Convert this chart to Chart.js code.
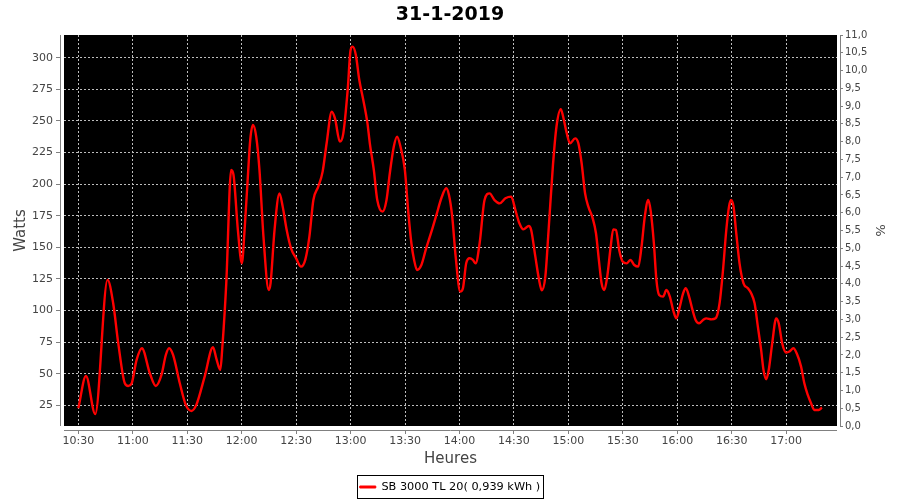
<!DOCTYPE html>
<html>
<head>
<meta charset="utf-8">
<script src="https://cdn.jsdelivr.net/npm/chart.js@4/dist/chart.umd.min.js"></script>
<style>
html,body{margin:0;padding:0;background:#fff;}
#wrap{width:900px;height:500px;position:relative;}
</style>
</head>
<body>
<div id="wrap"><canvas id="c" width="900" height="500"></canvas></div>
<script>
const chartTitle = "31-1-2019";
const seriesLabel = "SB 3000 TL 20( 0,939 kWh )";
const xAxisTitle = "Heures";
const yAxisTitle = "Watts";
const y2AxisTitle = "%";

// time in minutes after midnight
const minutes = [
  630.0, 634.2, 639.3, 646.1, 649.2, 652.0, 655.6, 657.5, 659.3, 662.1,
  665.0, 669.4, 672.7, 675.8, 678.2, 680.0, 682.2, 685.9, 689.2, 692.3,
  695.0, 699.6, 704.2, 706.0, 708.2, 709.3, 711.5, 714.2, 715.5, 717.9,
  720.1, 721.6, 723.4, 724.7, 726.2, 728.0, 729.8, 732.0, 734.9, 735.9,
  738.1, 740.8, 742.6, 744.8, 747.2, 750.0, 752.7, 755.1, 757.3, 759.5,
  762.2, 764.6, 766.8, 769.6, 771.4, 774.1, 776.0, 778.4, 780.0, 781.1,
  782.9, 784.8, 787.0, 789.3, 790.6, 792.8, 794.7, 797.6, 799.8, 801.6,
  803.8, 805.6, 807.5, 809.9, 811.7, 813.5, 815.0, 816.6, 819.0, 821.4,
  825.1, 827.3, 830.0, 832.7, 834.2, 836.0, 837.9, 840.4, 841.9, 843.7,
  845.6, 847.4, 848.9, 851.1, 853.8, 856.6, 859.3, 862.1, 865.3, 868.5,
  870.8, 873.0, 875.2, 878.2, 879.5, 881.8, 883.7, 885.3, 887.3, 889.1,
  891.5, 893.4, 895.8, 896.9, 899.1, 900.9, 903.7, 905.5, 907.3, 909.2,
  911.0, 913.4, 915.2, 917.0, 918.3, 919.8, 921.4, 923.3, 924.7, 926.2,
  928.0, 929.9, 932.1, 934.2, 936.3, 938.5, 940.3, 942.1, 944.0, 945.4,
  947.1, 948.5, 950.0, 952.2, 954.0, 955.9, 957.7, 959.5, 961.4, 963.2,
  964.7, 966.5, 968.4, 970.1, 972.0, 974.2, 976.0, 978.8, 981.1, 983.3,
  985.2, 987.0, 988.5, 989.6, 991.0, 992.5, 994.3, 996.5, 998.9, 1000.7,
  1002.6, 1004.4, 1006.2, 1007.5, 1009.0, 1010.4, 1012.3, 1014.5, 1015.9, 1017.8,
  1020.0, 1021.8, 1024.0, 1025.8, 1028.2, 1030.0, 1031.9, 1033.7, 1035.5, 1037.9,
  1039.7
];
const watts = [
  22.6, 48.2, 18.1, 124.2, 105.7, 74.0, 42.4, 40.3, 42.0, 60.9,
  70.1, 50.3, 40.3, 49.0, 64.8, 70.1, 64.8, 42.4, 25.3, 20.5,
  25.3, 47.7, 70.9, 62.2, 53.0, 70.1, 121.5, 211.2, 207.2, 163.7,
  137.3, 163.7, 205.9, 234.9, 246.8, 237.6, 211.2, 158.4, 116.2, 121.5,
  163.7, 192.7, 182.2, 163.7, 149.2, 141.3, 134.7, 140.5, 158.4, 187.4,
  198.0, 209.9, 232.3, 257.3, 252.0, 233.6, 240.2, 274.5, 306.1, 308.8,
  302.2, 282.4, 266.6, 248.1, 232.3, 211.2, 187.4, 178.2, 187.4, 208.5,
  229.6, 237.6, 229.6, 211.2, 179.5, 153.2, 140.0, 132.1, 136.0, 147.9,
  165.0, 175.6, 188.8, 196.7, 191.4, 174.3, 142.6, 114.9, 117.6, 137.3,
  141.3, 140.0, 137.3, 153.2, 187.4, 192.7, 187.4, 184.8, 188.8, 190.1,
  179.5, 169.0, 164.2, 166.9, 163.7, 142.6, 125.5, 116.0, 126.8, 163.7,
  215.0, 245.0, 259.2, 254.7, 240.2, 232.3, 236.2, 232.3, 216.5, 192.7,
  182.2, 172.9, 161.1, 137.3, 121.5, 116.2, 126.8, 150.5, 164.2, 163.7,
  147.9, 138.7, 137.3, 140.0, 136.0, 134.7, 150.5, 174.3, 187.4, 178.2,
  153.2, 124.2, 112.3, 111.0, 116.2, 111.0, 100.4, 93.8, 103.1, 113.6,
  117.6, 111.0, 100.4, 92.5, 89.9, 92.5, 93.8, 93.0, 93.8, 105.7,
  132.1, 163.7, 182.2, 187.4, 182.2, 161.1, 137.3, 121.5, 117.6, 113.6,
  105.7, 87.2, 68.8, 53.0, 45.6, 53.0, 74.0, 93.8, 89.9, 74.0,
  66.7, 67.5, 70.1, 66.1, 55.6, 42.4, 33.2, 26.6, 21.3, 21.3,
  23.2
];

const xTickValues = [630, 660, 690, 720, 750, 780, 810, 840, 870, 900, 930, 960, 990, 1020];
const xTickLabels = ["10:30","11:00","11:30","12:00","12:30","13:00","13:30","14:00","14:30","15:00","15:30","16:00","16:30","17:00"];
const wattTicks = [25, 50, 75, 100, 125, 150, 175, 200, 225, 250, 275, 300];
const pctTicks = [0, 0.5, 1, 1.5, 2, 2.5, 3, 3.5, 4, 4.5, 5, 5.5, 6, 6.5, 7, 7.5, 8, 8.5, 9, 9.5, 10, 10.5, 11];
const pctTickLabels = ["0,0","0,5","1,0","1,5","2,0","2,5","3,0","3,5","4,0","4,5","5,0","5,5","6,0","6,5","7,0","7,5","8,0","8,5","9,0","9,5","10,0","10,5","11,0"];

const FONT = "'DejaVu Sans', sans-serif";
const AXIS_GRAY = '#808080';
const TEXT_GRAY = '#444444';
const GRID_GRAY = '#bdbdbd';

Chart.defaults.font.family = FONT;

const framePlugin = {
  id: 'frame',
  beforeDraw(chart) {
    const {ctx, chartArea: a} = chart;
    ctx.save();
    ctx.fillStyle = '#000';
    ctx.fillRect(a.left, a.top, a.right - a.left, a.bottom - a.top);
    ctx.restore();
  },
  afterDraw(chart) {
    const {ctx, chartArea: a} = chart;
    ctx.save();
    ctx.fillStyle = '#fff';
    ctx.fillRect(a.left - 4, a.top, 4, a.bottom - a.top + 4);
    ctx.fillRect(a.right, a.top, 3, a.bottom - a.top + 4);
    ctx.fillRect(a.left - 4, a.bottom, a.right - a.left + 7, 4);
    ctx.strokeStyle = AXIS_GRAY;
    ctx.lineWidth = 1;
    ctx.beginPath();
    ctx.moveTo(a.left - 3.5, a.top);
    ctx.lineTo(a.left - 3.5, a.bottom);
    ctx.moveTo(a.left, a.bottom + 4.5);
    ctx.lineTo(a.right, a.bottom + 4.5);
    ctx.moveTo(a.right + 3.5, a.top);
    ctx.lineTo(a.right + 3.5, a.bottom);
    ctx.stroke();
    const hb = chart.legend && chart.legend.legendHitBoxes && chart.legend.legendHitBoxes[0];
    if (hb) {
      ctx.strokeStyle = '#000';
      ctx.lineWidth = 1;
      const l = Math.round(hb.left - 3) + 0.5;
      const r = Math.round(hb.left + hb.width + 3) + 0.5;
      const t = Math.round(hb.top - 6) + 0.5;
      const b = Math.round(hb.top + hb.height + 5) + 0.5;
      ctx.strokeRect(l, t, r - l, b - t);
    }
    ctx.restore();
  }
};

new Chart(document.getElementById('c'), {
  type: 'line',
  data: {
    datasets: [{
      label: seriesLabel,
      data: minutes.map((m, i) => ({x: m, y: watts[i]})),
      borderColor: '#ff0000',
      backgroundColor: '#ff0000',
      borderWidth: 2.4,
      pointRadius: 0,
      fill: false,
      cubicInterpolationMode: 'monotone',
      yAxisID: 'y'
    }]
  },
  options: {
    responsive: false,
    animation: false,
    layout: {padding: {left: 0, right: 0, top: 0, bottom: 3.65}},
    plugins: {
      title: {
        display: true,
        text: chartTitle,
        color: '#000',
        font: {family: FONT, size: 19, weight: 'bold'},
        padding: {top: 4, bottom: 8.2}
      },
      legend: {
        position: 'bottom',
        maxHeight: 20,
        labels: {
          color: '#000',
          font: {family: FONT, size: 11.3},
          boxWidth: 16,
          boxHeight: 2,
          padding: 5,
          generateLabels(chart) {
            const items = Chart.defaults.plugins.legend.labels.generateLabels(chart);
            items.forEach(it => { it.lineWidth = 1; });
            return items;
          }
        }
      },
      tooltip: {enabled: false}
    },
    scales: {
      x: {
        type: 'linear',
        position: 'bottom',
        min: 622.1,
        max: 1048.0,
        afterBuildTicks(scale) { scale.ticks = xTickValues.map(v => ({value: v})); },
        afterFit(scale) { scale.height = 50.35; },
        ticks: {
          autoSkip: false,
          maxRotation: 0,
          color: TEXT_GRAY,
          font: {family: FONT, size: 11},
          padding: 1,
          callback(value) { const i = xTickValues.indexOf(value); return i >= 0 ? xTickLabels[i] : ''; }
        },
        grid: {color: GRID_GRAY, tickColor: AXIS_GRAY, tickLength: 8, lineWidth: 1},
        border: {display: false, dash: [2, 2]},
        title: {display: true, text: xAxisTitle, color: TEXT_GRAY, font: {family: FONT, size: 15}, padding: {top: 0, bottom: 8}}
      },
      y: {
        type: 'linear',
        position: 'left',
        min: 8.6,
        max: 318,
        afterBuildTicks(scale) { scale.ticks = wattTicks.map(v => ({value: v})); },
        afterFit(scale) { scale.width = 64; },
        ticks: {
          color: TEXT_GRAY,
          font: {family: FONT, size: 11},
          padding: 3,
          callback(value) { return String(value); }
        },
        grid: {color: GRID_GRAY, tickColor: AXIS_GRAY, tickLength: 8, lineWidth: 1},
        border: {display: false, dash: [2, 2]},
        title: {display: true, text: yAxisTitle, color: TEXT_GRAY, font: {family: FONT, size: 15}, padding: {top: 12, bottom: 0}}
      },
      y2: {
        type: 'linear',
        position: 'right',
        min: 0,
        max: 11,
        afterBuildTicks(scale) { scale.ticks = pctTicks.map(v => ({value: v})); },
        afterFit(scale) { scale.width = 63; },
        ticks: {
          color: TEXT_GRAY,
          font: {family: FONT, size: 10},
          padding: 2,
          callback(value) { const i = pctTicks.indexOf(value); return i >= 0 ? pctTickLabels[i] : ''; }
        },
        grid: {drawOnChartArea: false, color: GRID_GRAY, tickColor: AXIS_GRAY, tickLength: 6, lineWidth: 1},
        border: {display: false},
        title: {display: true, text: y2AxisTitle, color: TEXT_GRAY, font: {family: FONT, size: 13}, padding: {top: 13, bottom: 0}}
      }
    }
  },
  plugins: [framePlugin]
});
</script>
</body>
</html>
